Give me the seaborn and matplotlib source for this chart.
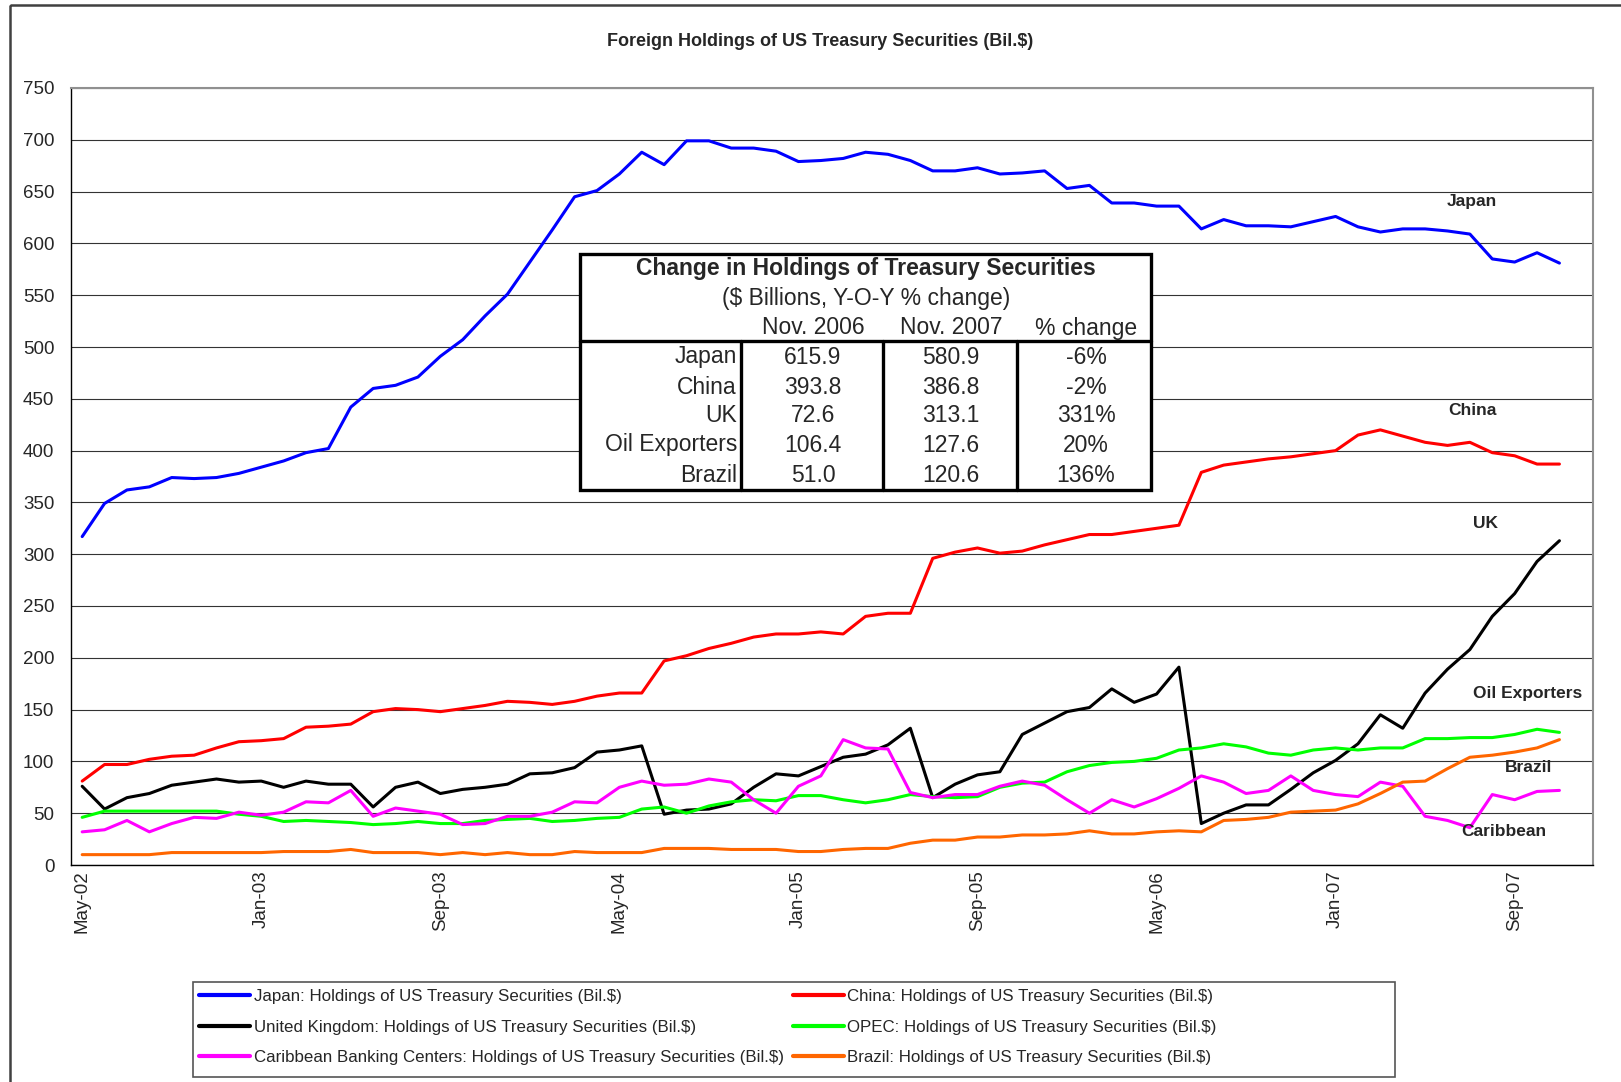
import numpy as np
import pandas as pd
import matplotlib.pyplot as plt
import seaborn as sns
from matplotlib.lines import Line2D
from matplotlib.patches import Rectangle

# Monthly data, May-02 .. Nov-07 (Bil.$)
months = pd.date_range("2002-05-01", "2007-11-01", freq="MS")
month_labels = [d.strftime("%b-%y") for d in months]

japan = [317, 349, 362, 365, 374, 373, 374, 378, 384, 390, 398, 402, 442, 460, 463, 471,
         491, 507, 530, 551, 582, 613, 645, 651, 667, 688, 676, 699, 699, 692, 692, 689,
         679, 680, 682, 688, 686, 680, 670, 670, 673, 667, 668, 670, 653, 656, 639, 639,
         636, 636, 614, 623, 617, 617, 616, 621, 626, 616, 611, 614, 614, 612, 609, 585,
         582, 591, 581]
china = [81, 97, 97, 102, 105, 106, 113, 119, 120, 122, 133, 134, 136, 148, 151, 150,
         148, 151, 154, 158, 157, 155, 158, 163, 166, 166, 197, 202, 209, 214, 220, 223,
         223, 225, 223, 240, 243, 243, 296, 302, 306, 301, 303, 309, 314, 319, 319, 322,
         325, 328, 379, 386, 389, 392, 394, 397, 400, 415, 420, 414, 408, 405, 408, 398,
         395, 387, 387]
uk = [76, 54, 65, 69, 77, 80, 83, 80, 81, 75, 81, 78, 78, 56, 75, 80,
      69, 73, 75, 78, 88, 89, 94, 109, 111, 115, 49, 53, 54, 59, 75, 88,
      86, 95, 104, 107, 116, 132, 65, 78, 87, 90, 126, 137, 148, 152, 170, 157,
      165, 191, 40, 50, 58, 58, 73, 89, 101, 117, 145, 132, 166, 189, 208, 240,
      262, 293, 313]
opec = [46, 52, 52, 52, 52, 52, 52, 49, 47, 42, 43, 42, 41, 39, 40, 42,
        40, 40, 43, 44, 45, 42, 43, 45, 46, 54, 56, 50, 57, 61, 63, 62,
        67, 67, 63, 60, 63, 68, 66, 65, 66, 75, 79, 80, 90, 96, 99, 100,
        103, 111, 113, 117, 114, 108, 106, 111, 113, 111, 113, 113, 122, 122, 123, 123,
        126, 131, 128]
caribbean = [32, 34, 43, 32, 40, 46, 45, 51, 48, 51, 61, 60, 72, 47, 55, 52,
             49, 39, 40, 47, 47, 51, 61, 60, 75, 81, 77, 78, 83, 80, 63, 50,
             76, 86, 121, 113, 112, 70, 65, 68, 68, 76, 81, 77, 63, 50, 63, 56,
             64, 74, 86, 80, 69, 72, 86, 72, 68, 66, 80, 76, 47, 43, 36, 68,
             63, 71, 72]
brazil = [10, 10, 10, 10, 12, 12, 12, 12, 12, 13, 13, 13, 15, 12, 12, 12,
          10, 12, 10, 12, 10, 10, 13, 12, 12, 12, 16, 16, 16, 15, 15, 15,
          13, 13, 15, 16, 16, 21, 24, 24, 27, 27, 29, 29, 30, 33, 30, 30,
          32, 33, 32, 43, 44, 46, 51, 52, 53, 59, 69, 80, 81, 93, 104, 106,
          109, 113, 121]

series_names = [
    "Japan: Holdings of US Treasury Securities (Bil.$)",
    "China: Holdings of US Treasury Securities (Bil.$)",
    "United Kingdom: Holdings of US Treasury Securities (Bil.$)",
    "OPEC: Holdings of US Treasury Securities (Bil.$)",
    "Caribbean Banking Centers: Holdings of US Treasury Securities (Bil.$)",
    "Brazil: Holdings of US Treasury Securities (Bil.$)",
]
series_values = [japan, china, uk, opec, caribbean, brazil]
series_colors = ["#0000FF", "#FF0000", "#000000", "#00FF00", "#FF00FF", "#FF6600"]

# Table inset
table_rows = ["Japan", "China", "UK", "Oil Exporters", "Brazil"]
nov_2006 = ["615.9", "393.8", "72.6", "106.4", "51.0"]
nov_2007 = ["580.9", "386.8", "313.1", "127.6", "120.6"]
pct_change = ["-6%", "-2%", "331%", "20%", "136%"]

# Series labels drawn at right side of chart
end_labels = ["Japan", "China", "UK", "Oil Exporters", "Brazil", "Caribbean"]
end_label_pos = [(62.1, 640), (62.1, 439), (62.7, 330), (64.6, 166), (64.6, 94), (63.5, 32)]


def main():
    frames = []
    for name, vals in zip(series_names, series_values):
        frames.append(pd.DataFrame({"idx": np.arange(len(vals)), "value": vals, "series": name}))
    df = pd.concat(frames, ignore_index=True)

    sns.set_style("white")
    plt.rcParams["font.family"] = ["Liberation Sans", "DejaVu Sans"]

    W, H = 1621, 1082
    fig = plt.figure(figsize=(W / 100, H / 100), dpi=100)
    left, right, top, bottom = 71, 1593, 88, 865
    ax = fig.add_axes([left / W, 1 - bottom / H, (right - left) / W, (bottom - top) / H])

    palette = dict(zip(series_names, series_colors))
    sns.lineplot(data=df, x="idx", y="value", hue="series", hue_order=series_names,
                 palette=palette, linewidth=2.2, estimator=None, legend=False, ax=ax)

    ax.set_xlim(-0.5, 67.5)
    ax.set_ylim(0, 750)
    ax.set_yticks(range(0, 751, 50))
    ax.set_xticks(range(0, len(month_labels), 8))
    ax.set_xticklabels(month_labels[::8], rotation=90, fontsize=13.5)
    ax.set_xticks(np.arange(-0.5, 68, 1), minor=True)
    ax.tick_params(axis="x", which="major", length=0, pad=4)
    ax.tick_params(axis="x", which="minor", length=5, width=1, color="black", direction="out")
    ax.tick_params(axis="y", length=5, width=1, color="black", direction="out",
                   labelsize=13.5, pad=7)
    ax.set_xlabel("")
    ax.set_ylabel("")
    ax.yaxis.grid(True, color="#333333", linewidth=0.8)
    ax.set_axisbelow(True)
    for s in ["left", "bottom"]:
        ax.spines[s].set_color("black")
        ax.spines[s].set_linewidth(1)
    for s in ["top", "right"]:
        ax.spines[s].set_color("#909090")
        ax.spines[s].set_linewidth(1.5)

    for txt, (xx, yy) in zip(end_labels, end_label_pos):
        ax.text(xx, yy, txt, ha="center", va="center", fontsize=12.5, fontweight="bold")

    # overlay in pixel coordinates for frame, title and table
    ov = fig.add_axes([0, 0, 1, 1], facecolor="none")
    ov.set_xlim(0, W)
    ov.set_ylim(H, 0)
    ov.axis("off")
    ov.add_patch(Rectangle((10, 5), W + 20, H + 20, fill=False, edgecolor="#404040", linewidth=1.8))
    ov.text(820, 41, "Foreign Holdings of US Treasury Securities (Bil.$)", ha="center",
            va="center", fontsize=13, fontweight="bold")

    bx0, bx1, by0, by1 = 580, 1151, 254, 490
    ov.add_patch(Rectangle((bx0, by0), bx1 - bx0, by1 - by0, facecolor="white",
                           edgecolor="black", linewidth=2.4, zorder=3))
    ov.plot([bx0, bx1], [341, 341], color="black", linewidth=2.4, zorder=4)
    for xd in [741, 883, 1017]:
        ov.plot([xd, xd], [341, by1], color="black", linewidth=2.4, zorder=4)
    fs = 16.5
    ov.text(866, 269, "Change in Holdings of Treasury Securities", ha="center", va="center",
            fontsize=fs, fontweight="bold", zorder=5)
    ov.text(866, 298, "($ Billions, Y-O-Y % change)", ha="center", va="center", fontsize=fs, zorder=5)
    for xc, h in zip([813, 951, 1086], ["Nov. 2006", "Nov. 2007", "% change"]):
        ov.text(xc, 328, h, ha="center", va="center", fontsize=fs, zorder=5)
    row_y = [357, 387, 416, 445, 475]
    for i, yy in enumerate(row_y):
        ov.text(737, yy, table_rows[i], ha="right", va="center", fontsize=fs, zorder=5)
        ov.text(813, yy, nov_2006[i], ha="center", va="center", fontsize=fs, zorder=5)
        ov.text(951, yy, nov_2007[i], ha="center", va="center", fontsize=fs, zorder=5)
        ov.text(1086, yy, pct_change[i], ha="center", va="center", fontsize=fs, zorder=5)

    # legend box, then a frameless two-column legend inside it
    lx0, lx1, ly0, ly1 = 193, 1395, 982, 1077
    ov.add_patch(Rectangle((lx0, ly0), lx1 - lx0, ly1 - ly0, facecolor="white",
                           edgecolor="#555555", linewidth=1.2))
    handles = [Line2D([0], [0], color=c, linewidth=3) for c in series_colors]
    order = [0, 2, 4, 1, 3, 5]
    fig.legend([handles[i] for i in order], [series_names[i] for i in order],
               ncol=2, loc="upper left", bbox_to_anchor=(196 / W, 1 - 986 / H),
               fontsize=12.2, frameon=False, handlelength=3.0, handletextpad=0.2,
               labelspacing=0.9, columnspacing=0.55, borderaxespad=0, borderpad=0.2)

    fig.savefig("out.png", dpi=100)
    plt.close(fig)


if __name__ == "__main__":
    main()
